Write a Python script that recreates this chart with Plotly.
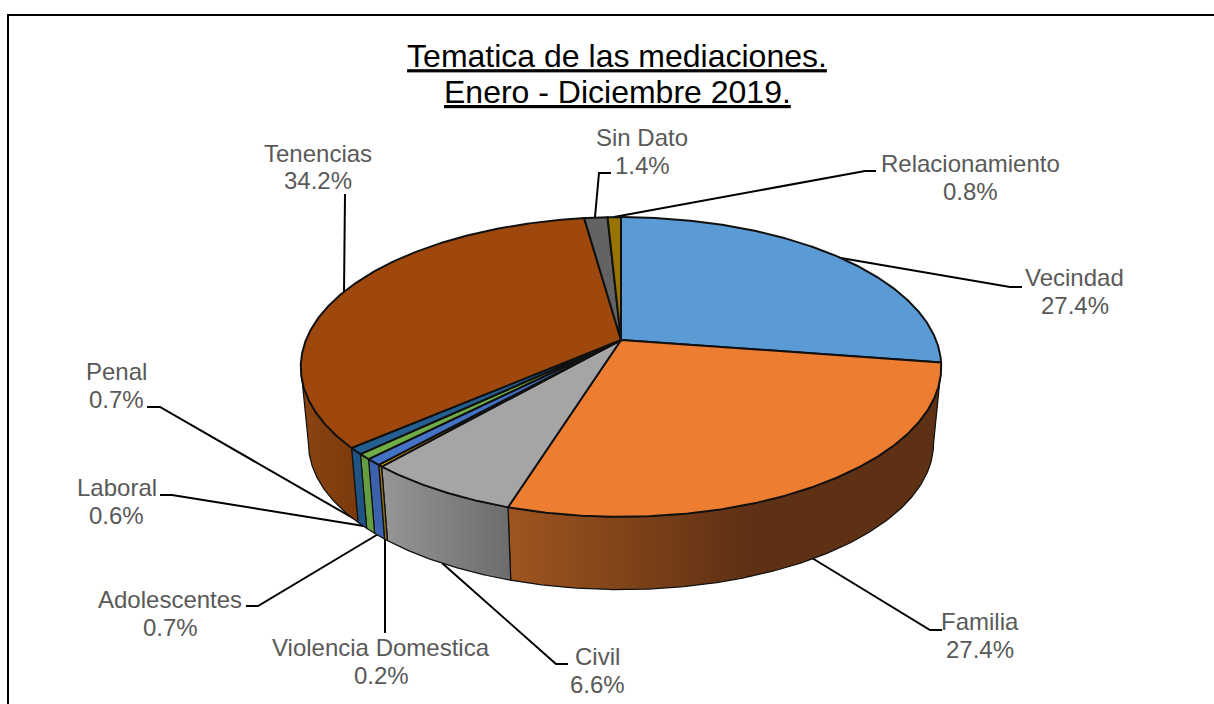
import numpy as np
import plotly.graph_objects as go

# ---- data ----
categories = ["Vecindad", "Familia", "Civil", "Violencia Domestica", "Adolescentes",
              "Laboral", "Penal", "Tenencias", "Sin Dato", "Relacionamiento"]
values = [27.4, 27.4, 6.6, 0.2, 0.7, 0.6, 0.7, 34.2, 1.4, 0.8]
title_lines = ["Tematica de las mediaciones.", "Enero - Diciembre 2019."]

# ---- styles ----
top_colors = ["#5B9BD5", "#ED7D31", "#A5A5A5", "#FFC000", "#4472C4",
              "#70AD47", "#255E91", "#9E480E", "#636363", "#997300"]
wall_gradients = {
    "Familia": ("#A0551F", "#5E3014", 505, 750),
    "Civil": ("#969696", "#6C6C6C", 382, 510),
    "Tenencias": ("#8A4310", "#7B3A0B", 305, 360),
}
wall_flat = {"Violencia Domestica": "#8A6C10", "Adolescentes": "#3C62AC",
             "Laboral": "#649E40", "Penal": "#205484"}
TEXT = "#595959"
FONT = "Liberation Sans"

# ---- projection of the tilted pie ----
CX, CY = 621, 340
A, B, K = 315, 145, 0.18
SHRINK, DROP = 0.976, 77
VIS_START, VIS_END = 100.4, 259.6


def project(deg, lower=False):
    t = np.radians(deg)
    X, Y = np.sin(t), np.cos(t)
    w = 1 + K * Y
    s = SHRINK if lower else 1.0
    return CX + s * A * X / w, CY - s * B * Y / w + (DROP if lower else 0)


def angles(a, b):
    return np.linspace(a, b, max(2, int(np.ceil((b - a) / 0.5)) + 1))


# ---- label placement, name and percentage rows ----
label_pos = {
    "Vecindad": (1074.5, 277, 305),
    "Familia": (980, 621, 649),
    "Civil": (597, 656, 684),
    "Violencia Domestica": (381, 647, 675),
    "Adolescentes": (170, 599, 627),
    "Laboral": (116.5, 487, 515),
    "Penal": (116, 371, 399),
    "Tenencias": (318, 153, 180),
    "Sin Dato": (642, 137, 165),
    "Relacionamiento": (970, 163, 191),
}
leaders = {
    "Vecindad": ([835, 1010, 1022], [257, 287, 287]),
    "Familia": ([812, 930, 942], [558, 630, 630]),
    "Civil": ([442, 556, 568], [563, 664, 664]),
    "Violencia Domestica": ([385, 385], [536, 633]),
    "Adolescentes": ([380, 258, 246], [533, 606, 606]),
    "Laboral": ([370, 172, 160], [527, 495, 495]),
    "Penal": ([365, 160, 147], [525, 407, 407]),
    "Tenencias": ([344, 345], [293, 194]),
    "Sin Dato": ([595, 599, 611], [217, 173, 173]),
    "Relacionamiento": ([614, 865, 876], [217, 171, 171]),
}

fig = go.Figure()

for name in categories:
    lx, ly = leaders[name]
    fig.add_trace(go.Scatter(x=lx, y=ly, mode="lines", showlegend=False, hoverinfo="skip",
                             line=dict(color="black", width=2), name=name + " leader"))

edges = np.cumsum([0] + values) / sum(values) * 360

# side walls, only the part facing the viewer
for i, name in enumerate(categories):
    a, b = max(edges[i], VIS_START), min(edges[i + 1], VIS_END)
    if b <= a:
        continue
    th = angles(a, b)
    ux, uy = project(th)
    lx, ly = project(th[::-1], lower=True)
    px, py = np.r_[ux, lx, ux[0]], np.r_[uy, ly, uy[0]]
    kw = dict(x=px, y=py, mode="lines", fill="toself", showlegend=False, name=name + " side",
              hoverinfo="skip", line=dict(color="#111111", width=1.25))
    if name in wall_gradients:
        c0, c1, g0, g1 = wall_gradients[name]
        kw["fillgradient"] = dict(type="horizontal", start=g0, stop=g1,
                                  colorscale=[[0, c0], [1, c1]])
    else:
        kw["fillcolor"] = wall_flat[name]
    fig.add_trace(go.Scatter(**kw))

# top faces
for i, name in enumerate(categories):
    th = angles(edges[i], edges[i + 1])
    ux, uy = project(th)
    fig.add_trace(go.Scatter(x=np.r_[CX, ux, CX], y=np.r_[CY, uy, CY], mode="lines",
                             fill="toself", fillcolor=top_colors[i], showlegend=False,
                             name=name, text=f"{name}: {values[i]:.1f}%", hoverinfo="text",
                             line=dict(color="#111111", width=2)))

annotations = []
for name, v in zip(categories, values):
    x, y1, y2 = label_pos[name]
    for txt, y in ((name, y1), (f"{v:.1f}%", y2)):
        annotations.append(dict(x=x, y=y, xref="x", yref="y", text=txt, showarrow=False,
                                xanchor="center", yanchor="middle",
                                font=dict(family=FONT, size=24, color=TEXT)))
annotations.append(dict(x=617, y=92, xref="x", yref="y", text=f"<u>{title_lines[1]}</u>",
                        showarrow=False, xanchor="center", yanchor="middle",
                        font=dict(family=FONT, size=32, color="black")))

fig.update_layout(
    width=1214, height=704, margin=dict(l=0, r=0, t=0, b=0),
    paper_bgcolor="white", plot_bgcolor="white", showlegend=False,
    title=dict(text=f"<u>{title_lines[0]}</u>", x=617 / 1214, y=1 - 56 / 704,
               xanchor="center", yanchor="middle",
               font=dict(family=FONT, size=32, color="black")),
    xaxis=dict(range=[0, 1214], visible=False, fixedrange=True),
    yaxis=dict(range=[704, 0], visible=False, fixedrange=True),
    annotations=annotations,
    shapes=[
        dict(type="line", xref="x", yref="y", x0=8, y0=15, x1=8, y1=704, line=dict(color="black", width=2)),
        dict(type="line", xref="x", yref="y", x0=7, y0=15, x1=1214, y1=15, line=dict(color="black", width=2)),
    ],
)

fig.write_html("out.html", config=dict(displayModeBar=False),
               post_script="document.body.style.margin='0';document.documentElement.style.overflow='hidden';")
